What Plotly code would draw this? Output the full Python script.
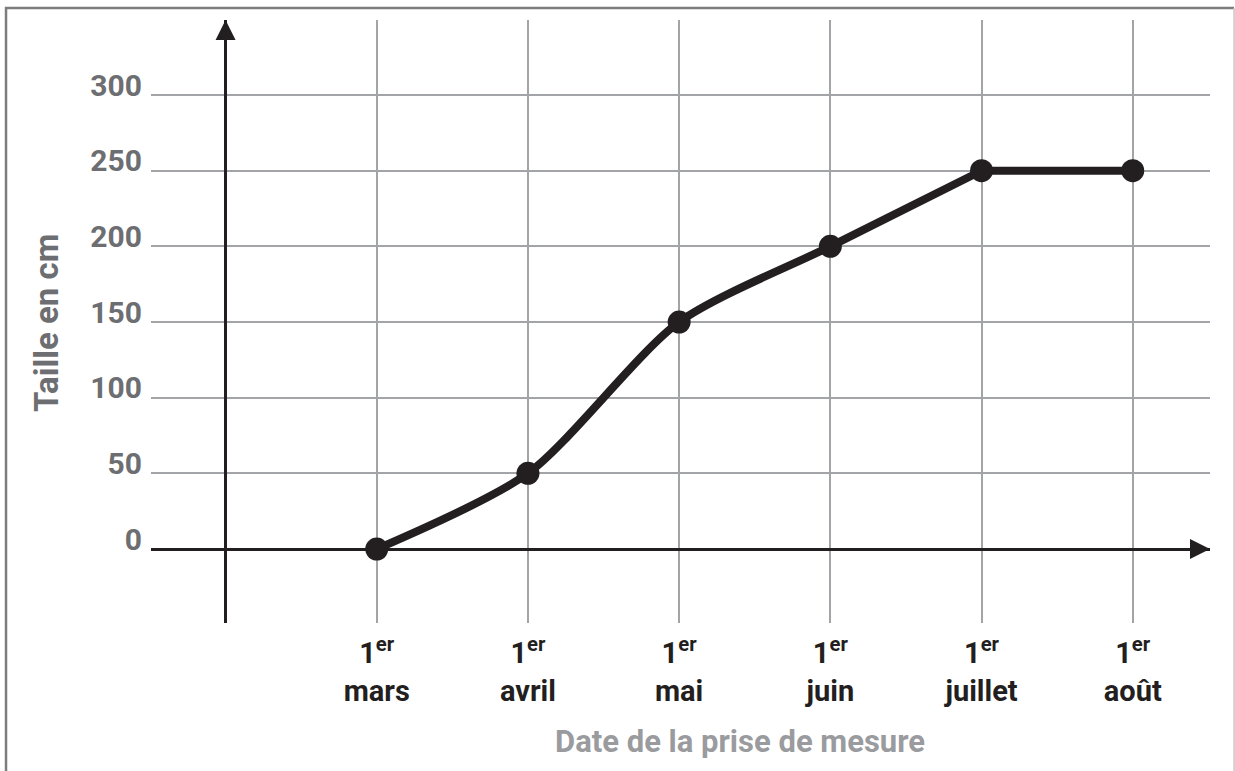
import plotly.graph_objects as go

# ---- data ----
mois = ["mars", "avril", "mai", "juin", "juillet", "août"]
taille_cm = [0, 50, 150, 200, 250, 250]
y_ticks = [0, 50, 100, 150, 200, 250, 300]
titre_x = "Date de la prise de mesure"
titre_y = "Taille en cm"

x_pos = list(range(1, len(mois) + 1))
tick_text = [f"1<sup>er</sup><br>{m}" for m in mois]

INK = "#231f20"
GRID = "#a3a4a7"
GREY_TXT = "#6d6e71"
FONT = "Roboto"

fig = go.Figure()

# smooth growth part (spline) then flat final segment
fig.add_trace(go.Scatter(
    x=x_pos[:5], y=taille_cm[:5], mode="lines",
    line=dict(color=INK, width=8, shape="spline", smoothing=0.75),
    hoverinfo="skip", showlegend=False))
fig.add_trace(go.Scatter(
    x=x_pos[4:], y=taille_cm[4:], mode="lines",
    line=dict(color=INK, width=8),
    hoverinfo="skip", showlegend=False))
fig.add_trace(go.Scatter(
    x=x_pos, y=taille_cm, mode="markers",
    marker=dict(color=INK, size=23),
    showlegend=False))

x_range = [-0.493, 6.511]
y_range = [-48.9, 349.6]

fig.update_layout(
    width=1235, height=771,
    margin=dict(l=151, r=25, t=20, b=148),
    paper_bgcolor="white", plot_bgcolor="white",
    showlegend=False,
    font=dict(family=FONT),
)

fig.update_xaxes(
    range=x_range, tickvals=x_pos, ticktext=tick_text,
    showgrid=True, gridcolor=GRID, gridwidth=2,
    zeroline=True, zerolinecolor=INK, zerolinewidth=2.5,
    showline=False, ticks="", ticklabelstandoff=10,
    tickfont=dict(family=FONT, size=29, color=INK, weight="bold"),
    fixedrange=True,
)
fig.update_yaxes(
    range=y_range, tickvals=y_ticks,
    showgrid=True, gridcolor=GRID, gridwidth=2,
    zeroline=True, zerolinecolor=INK, zerolinewidth=2.5,
    showline=False, ticks="", ticklabelstandoff=8, ticklabelshift=-10,
    tickfont=dict(family=FONT, size=30, color=GREY_TXT, weight="bold"),
    fixedrange=True,
)

# axis arrowheads
fig.add_annotation(x=0, y=y_range[1], ax=0, ay=y_range[1] - 14,
                   xref="x", yref="y", axref="x", ayref="y", text="",
                   showarrow=True, arrowhead=2, arrowsize=1.6,
                   arrowwidth=2.5, arrowcolor=INK)
fig.add_annotation(x=x_range[1], y=0, ax=x_range[1] - 0.14, ay=0,
                   xref="x", yref="y", axref="x", ayref="y", text="",
                   showarrow=True, arrowhead=2, arrowsize=1.6,
                   arrowwidth=2.5, arrowcolor=INK)

# axis titles
fig.add_annotation(text=titre_x, xref="paper", yref="paper",
                   x=0.556, y=-0.196, xanchor="center", yanchor="middle",
                   showarrow=False,
                   font=dict(family=FONT, size=31, color="#9a9b9e", weight="bold"))
fig.add_annotation(text=titre_y, xref="paper", yref="paper",
                   x=-0.0992, y=0.4975, xanchor="center", yanchor="middle",
                   textangle=-90, showarrow=False,
                   font=dict(family=FONT, size=33, color=GREY_TXT, weight="bold"))

# frame: left and top (darker), right (light)
fig.add_shape(type="path", xref="paper", yref="paper",
              path="M -0.1369,-0.26 L -0.1369,1.0199 L 1.0227,1.0199",
              line=dict(color="#7d7d80", width=2.5))
fig.add_shape(type="line", xref="paper", yref="paper",
              x0=1.0227, y0=1.0199, x1=1.0227, y1=-0.26,
              line=dict(color="#c8c8ca", width=1.5))

fig.write_html(
    "out.html",
    config={"displayModeBar": False},
    post_script="document.body.style.margin='0';document.body.style.overflow='hidden';",
)
